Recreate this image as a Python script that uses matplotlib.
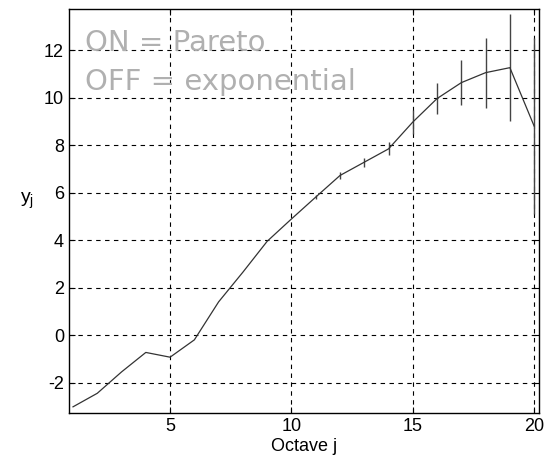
import numpy as np
import matplotlib
matplotlib.use('Agg')
import matplotlib.pyplot as plt

## octave index and log-scale estimates
octave = np.arange(1, 21)
yj = [-3.02, -2.45, -1.55, -0.73, -0.93, -0.2, 1.4, 2.65, 3.95, 4.89,
      5.81, 6.72, 7.28, 7.84, 8.97, 9.96, 10.63, 11.05, 11.26, 8.8]
## confidence half widths (only visible from octave 11 onward)
err = [0, 0, 0, 0, 0, 0, 0, 0, 0, 0,
       0.1, 0.15, 0.19, 0.27, 0.52, 0.65, 0.96, 1.48, 2.26, 3.7]

xticks = [5, 10, 15, 20]
yticks = [-2, 0, 2, 4, 6, 8, 10, 12]

plt.rcParams['font.family'] = ['Liberation Sans', 'DejaVu Sans']
plt.rcParams['axes.unicode_minus'] = False

fig = plt.figure(figsize=(5.6, 4.69), dpi=100)
ax = fig.add_axes([0.123, 0.1194, 0.8395, 0.8614])

ax.errorbar(octave, yj, yerr=err, color='#333333', lw=0.9,
            elinewidth=1.0, ecolor='#444444', capsize=0)

ax.set_xlim(0.83, 20.2)
ax.set_ylim(-3.28, 13.73)
ax.set_xticks(xticks)
ax.set_yticks(yticks)
ax.grid(True, color='black', linestyle=(0, (4, 4)), lw=0.8)
ax.tick_params(direction='in', top=True, right=True, labelsize=13, length=4)
for s in ax.spines.values():
    s.set_linewidth(1.0)

ax.set_xlabel('Octave j', fontsize=13, labelpad=2)
ax.set_ylabel('$\\mathregular{y_j}$', fontsize=14, rotation=0, labelpad=12)

ax.text(0.035, 0.895, 'ON = Pareto', transform=ax.transAxes, fontsize=21,
        color='#b0b0b0', family='DejaVu Sans')
ax.text(0.035, 0.80, 'OFF = exponential', transform=ax.transAxes, fontsize=21,
        color='#b0b0b0', family='DejaVu Sans')

fig.savefig('out.png', dpi=100)
